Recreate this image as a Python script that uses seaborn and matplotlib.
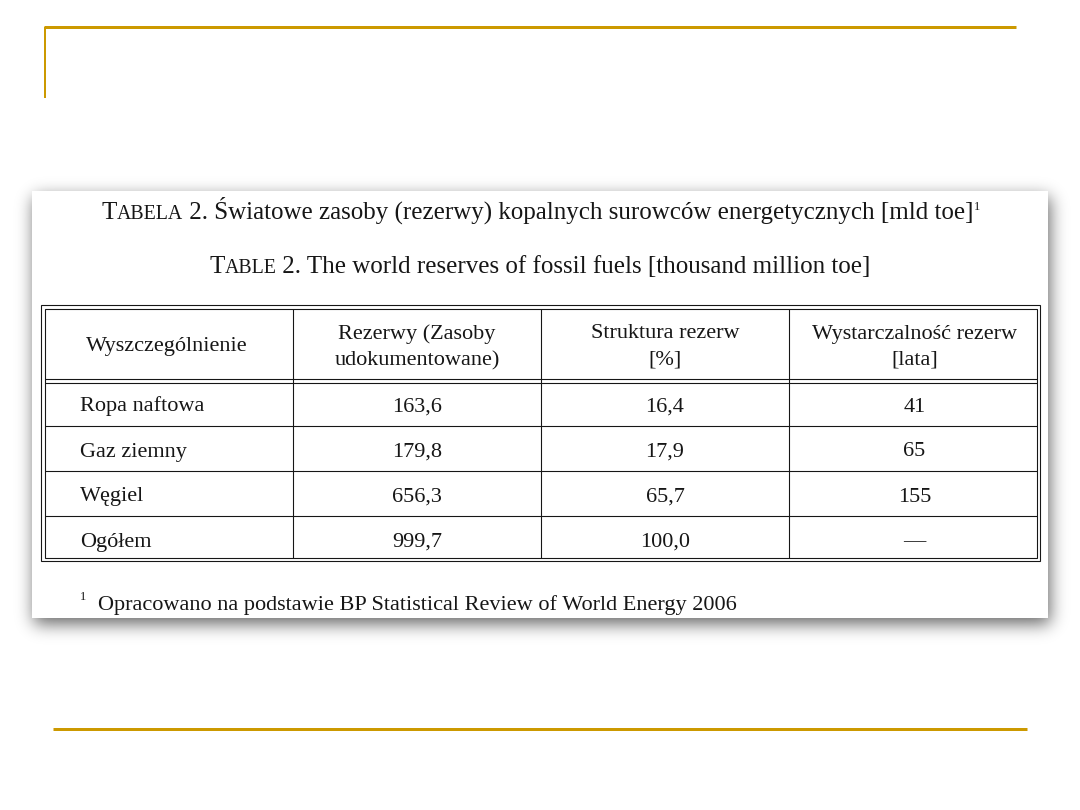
import matplotlib
matplotlib.use("Agg")
import matplotlib.pyplot as plt
import seaborn as sns
import numpy as np
from matplotlib.patches import Rectangle

# ---------------- data ----------------
title_pl = "Światowe zasoby (rezerwy) kopalnych surowców energetycznych [mld toe]"
title_en = "The world reserves of fossil fuels [thousand million toe]"
headers = ["Wyszczególnienie", "Rezerwy (Zasoby\nudokumentowane)",
           "Struktura rezerw\n[%]", "Wystarczalność rezerw\n[lata]"]
categories = ["Ropa naftowa", "Gaz ziemny", "Węgiel", "Ogółem"]
reserves = [163.6, 179.8, 656.3, 999.7]
structure = [16.4, 17.9, 65.7, 100.0]
sufficiency = [41, 65, 155, None]
footnote = "Opracowano na podstawie BP Statistical Review of World Energy 2006"

sns.set_theme(style="white")
plt.rcParams['font.family'] = ['Liberation Serif', 'DejaVu Serif']

W, H = 1080, 810
fig = plt.figure(figsize=(W / 100, H / 100), dpi=100)
ax = fig.add_axes([0, 0, 1, 1])
ax.set_xlim(0, W)
ax.set_ylim(H, 0)
ax.axis("off")
fig.patch.set_facecolor("white")

PX = 0.72  # points per pixel
gold = "#CC9900"
ink = "#161616"

# slide decorations
ax.plot([44, 1016], [27, 27], color=gold, lw=3 * PX, solid_capstyle="butt")
ax.plot([45, 45], [27, 98], color=gold, lw=2 * PX, solid_capstyle="butt")
ax.plot([53, 1027], [729, 729], color=gold, lw=3 * PX, solid_capstyle="butt")

# picture box with soft shadow
bx0, by0, bx1, by1 = 32, 191, 1048, 618
m = 45
gx = np.arange(bx0 - m, bx1 + m) + 0.5
gy = np.arange(by0 - m, by1 + m) + 0.5
ox, oy = 2, 6
mask = ((gy[:, None] >= by0 + oy) & (gy[:, None] <= by1 + oy) &
        (gx[None, :] >= bx0 + ox) & (gx[None, :] <= bx1 + ox)).astype(float)
sig = 8.5
k = np.exp(-0.5 * (np.arange(-30, 31) / sig) ** 2)
k /= k.sum()
mask = np.apply_along_axis(lambda r: np.convolve(r, k, mode="same"), 1, mask)
mask = np.apply_along_axis(lambda c: np.convolve(c, k, mode="same"), 0, mask)
rgba = np.zeros(mask.shape + (4,))
rgba[..., 3] = 0.6 * mask
ax.imshow(rgba, extent=(bx0 - m, bx1 + m, by1 + m, by0 - m), origin="upper",
          interpolation="bilinear", zorder=1, aspect="auto")
ax.set_xlim(0, W)
ax.set_ylim(H, 0)
ax.add_patch(Rectangle((bx0, by0), bx1 - bx0, by1 - by0, fc="white", ec="none", zorder=2))

renderer = fig.canvas.get_renderer()


def draw_runs(runs, y, cx=None, left=None):
    """runs: list of (text, fontsize, dy_px)"""
    objs = []
    for txt, fs, dy in runs:
        t = ax.text(0, y + dy, txt, fontsize=fs, color=ink, ha="left", va="baseline", zorder=5)
        objs.append(t)
    widths = [o.get_window_extent(renderer).width for o in objs]
    total = sum(widths)
    x = left if left is not None else cx - total / 2
    for o, w in zip(objs, widths):
        o.set_x(x)
        x += w
    return objs


big, small = 18.0, 14.3
draw_runs([("T", big, 0), ("ABELA", small, 0), (" 2. " + title_pl, big, 0),
           ("1", 9, -9)], 219, cx=541)
draw_runs([("T", big, 0), ("ABLE", small, 0), (" 2. " + title_en, big, 0)], 273, cx=540)

# table geometry
cols = [41, 293, 541, 789, 1040]
rows = [305, 381, 426, 471, 516, 561]
lw1 = 1.1 * PX
gap = 3.5

# outer double border
for d in (0, gap):
    ax.add_patch(Rectangle((cols[0] + d, rows[0] + d), cols[-1] - cols[0] - 2 * d,
                           rows[-1] - rows[0] - 2 * d, fc="none", ec=ink, lw=lw1, zorder=4))
# header double line
for d in (-gap / 2, gap / 2):
    ax.plot([cols[0] + gap, cols[-1] - gap], [rows[1] + d, rows[1] + d], color=ink, lw=lw1, zorder=4)
for r in rows[2:-1]:
    ax.plot([cols[0] + gap, cols[-1] - gap], [r, r], color=ink, lw=lw1, zorder=4)
for c in cols[1:-1]:
    ax.plot([c, c], [rows[0] + gap, rows[-1] - gap], color=ink, lw=lw1, zorder=4)

fs_cell = 16.0
for j, h in enumerate(headers):
    cx = (cols[j] + cols[j + 1]) / 2
    ax.text(cx, (rows[0] + rows[1]) / 2 + 4, h, fontsize=fs_cell, color=ink, ha="center",
            va="center", linespacing=1.5, zorder=5)


def fmt(v):
    if v is None:
        return "—"
    if isinstance(v, float):
        return ("%.1f" % v).replace(".", ",")
    return str(v)


for i, cat in enumerate(categories):
    cy = (rows[i + 1] + rows[i + 2]) / 2
    base = cy + 8
    ax.text(80, base, cat, fontsize=fs_cell, color=ink, ha="left", va="baseline", zorder=5)
    for j, vals in enumerate([reserves, structure, sufficiency], start=1):
        cx = (cols[j] + cols[j + 1]) / 2
        ax.text(cx, base, fmt(vals[i]), fontsize=fs_cell, color=ink, ha="center",
                va="baseline", zorder=5)

# footnote
ax.text(80, 600, "1", fontsize=9, color=ink, ha="left", va="baseline", zorder=5)
ax.text(98, 610, footnote, fontsize=16, color=ink, ha="left", va="baseline", zorder=5)

fig.savefig("out.png", dpi=100, facecolor="white")
